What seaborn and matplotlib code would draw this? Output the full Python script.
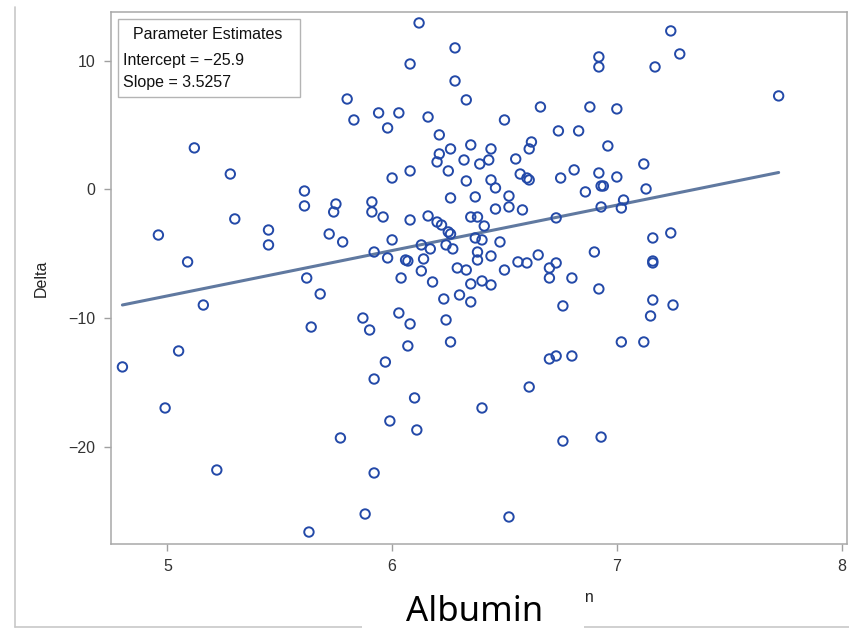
import numpy as np
import matplotlib.pyplot as plt
import seaborn as sns
from matplotlib.patches import Rectangle
from matplotlib.lines import Line2D

# values
albumin = [4.80, 4.96, 4.99, 5.05, 5.09, 5.12, 5.16, 5.22, 5.28, 5.30,
           5.45, 5.45, 5.61, 5.61, 5.62, 5.63, 5.64, 5.68, 5.72, 5.74,
           5.75, 5.77, 5.78, 5.80, 5.83, 5.87, 5.88, 5.90, 5.91, 5.91,
           5.92, 5.92, 5.92, 5.94, 5.96, 5.97, 5.98, 5.98, 5.99, 6.00,
           6.00, 6.03, 6.03, 6.04, 6.06, 6.07, 6.07, 6.08, 6.08, 6.08,
           6.08, 6.10, 6.11, 6.12, 6.13, 6.13, 6.14, 6.16, 6.16, 6.17,
           6.18, 6.20, 6.20, 6.21, 6.21, 6.22, 6.23, 6.24, 6.24, 6.25,
           6.25, 6.26, 6.26, 6.26, 6.26, 6.27, 6.28, 6.28, 6.29, 6.30,
           6.32, 6.33, 6.33, 6.33, 6.35, 6.35, 6.35, 6.35, 6.37, 6.37,
           6.38, 6.38, 6.38, 6.39, 6.40, 6.40, 6.40, 6.41, 6.43, 6.44,
           6.44, 6.44, 6.44, 6.46, 6.46, 6.48, 6.50, 6.50, 6.52, 6.52,
           6.52, 6.55, 6.56, 6.57, 6.58, 6.60, 6.60, 6.61, 6.61, 6.61,
           6.62, 6.65, 6.66, 6.70, 6.70, 6.70, 6.73, 6.73, 6.73, 6.74,
           6.75, 6.76, 6.76, 6.80, 6.80, 6.81, 6.83, 6.86, 6.88, 6.90,
           6.92, 6.92, 6.92, 6.92, 6.93, 6.94, 6.93, 6.93, 6.96, 7.00,
           7.00, 7.02, 7.02, 7.03, 7.12, 7.12, 7.13, 7.15, 7.16, 7.16,
           7.16, 7.16, 7.17, 7.24, 7.24, 7.25, 7.28, 7.72]
delta = [-13.79, -3.54, -16.98, -12.55, -5.63, 3.23, -8.98, -21.80, 1.20, -2.29,
         -3.15, -4.31, -0.12, -1.28, -6.88, -26.62, -10.69, -8.12, -3.46, -1.75,
         -1.13, -19.31, -4.08, 7.03, 5.40, -9.99, -25.22, -10.92, -0.97, -1.75,
         -4.86, -14.73, -22.03, 5.95, -2.14, -13.41, 4.78, -5.32, -17.99, 0.89,
         -3.92, 5.95, -9.60, -6.88, -5.48, -5.56, -12.16, -2.37, -10.45, 9.75,
         1.44, -16.20, -18.69, 12.94, -4.31, -6.33, -5.40, 5.63, -2.06, -4.62,
         -7.19, 2.14, -2.53, 4.24, 2.76, -2.76, -8.51, -4.31, -10.14, 1.44,
         -3.30, -0.66, 3.15, -3.46, -11.85, -4.62, 11.00, 8.43, -6.10, -8.20,
         2.29, 6.96, -6.26, 0.66, 3.46, -2.14, -7.34, -8.74, -0.58, -3.77,
         -2.14, -4.86, -5.48, 1.98, -3.92, -7.11, -16.98, -2.84, 2.29, 3.15,
         0.74, -7.42, -5.17, 0.12, -1.52, -4.08, 5.40, -6.26, -0.51, -1.36,
         -25.45, 2.37, -5.63, 1.20, -1.59, -5.71, 0.89, 0.74, 3.15, -15.35,
         3.69, -5.09, 6.41, -6.10, -6.88, -13.17, -2.21, -5.71, -12.94, 4.55,
         0.89, -19.55, -9.05, -6.88, -12.94, 1.52, 4.55, -0.19, 6.41, -4.86,
         9.52, 1.28, -7.73, 10.30, 0.27, 0.27, -1.36, -19.24, 3.38, 6.26,
         0.97, -1.44, -11.85, -0.82, -11.85, 1.98, 0.04, -9.83, -5.56, -5.71,
         -3.77, -8.59, 9.52, -3.38, 12.32, -8.98, 10.53, 7.27]

intercept = -25.9
slope = 3.5257

sns.set_style("white")
plt.rcParams['font.family'] = ['Liberation Sans', 'DejaVu Sans']

fig = plt.figure(figsize=(8.49, 6.35), dpi=100)
ax = fig.add_axes([0.1307, 0.1433, 0.8669, 0.8378])

# fitted line from the reported estimates
xfit = np.array([min(albumin), max(albumin)])
sns.lineplot(x=xfit, y=intercept + slope * xfit, color="#6079a0", linewidth=2.2, ax=ax, zorder=2)

# hollow circle markers
sns.scatterplot(x=albumin, y=delta, marker="o", s=46, facecolor="none",
                edgecolor="#2349a8", linewidth=1.4, ax=ax, zorder=3)

ax.set_xlim(4.749, 8.024)
ax.set_ylim(-27.55, 13.79)
ax.set_xticks([5, 6, 7, 8])
ax.set_yticks([-20, -10, 0, 10])
ax.set_yticklabels(["\u221220", "\u221210", "0", "10"])
ax.tick_params(axis="both", direction="out", length=5, width=1, color="#a0a0a0",
               labelsize=11.5, labelcolor="#333333", pad=6, left=True, bottom=True)
for s in ax.spines.values():
    s.set_color("#a8a8a8")
    s.set_linewidth(1.1)

ax.set_xlabel("")
ax.set_ylabel("Delta", fontsize=11.5, color="#222222", labelpad=14)

# parameter estimates box
ax.add_patch(Rectangle((0.0095, 0.84), 0.2475, 0.147, transform=ax.transAxes,
                       facecolor="white", edgecolor="#b4b4b4", linewidth=1, zorder=4))
ax.text(0.132, 0.958, "Parameter Estimates", transform=ax.transAxes, ha="center",
        va="center", fontsize=11.5, color="#111111", zorder=5)
ax.text(0.016, 0.909, "Intercept = \u221225.9", transform=ax.transAxes, ha="left",
        va="center", fontsize=11.5, color="#111111", zorder=5)
ax.text(0.016, 0.867, "Slope = 3.5257", transform=ax.transAxes, ha="left",
        va="center", fontsize=11.5, color="#111111", zorder=5)

# outer frame
fig.add_artist(Line2D([15/849, 15/849], [1 - 7/635, 1 - 627/635], color="#c8c8c8", lw=1.2))
fig.add_artist(Line2D([15/849, 1], [1 - 627/635, 1 - 627/635], color="#c8c8c8", lw=1.2))

# original small label, mostly covered by the big one
fig.text(595/849, 1 - 597/635, "Albumin", ha="right", va="center", fontsize=11.5,
         color="#222222", zorder=3)
fig.add_artist(Rectangle((362/849, 0), 222/849, 52/635, transform=fig.transFigure,
                         facecolor="white", edgecolor="none", zorder=5))
fig.text(475/849, 1 - 612/635, "Albumin", ha="center", va="center", fontsize=25,
         family=["Noto Sans", "DejaVu Sans"], color="black", zorder=6)

plt.savefig("out.png", dpi=100)
